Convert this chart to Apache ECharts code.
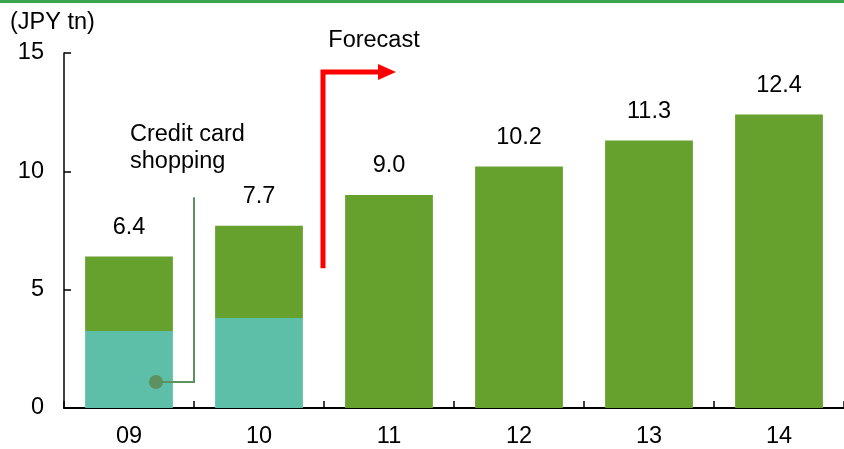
<!DOCTYPE html>
<html>
<head>
<meta charset="utf-8">
<script src="https://cdn.jsdelivr.net/npm/echarts@6/dist/echarts.min.js"></script>
<style>
  html, body { margin: 0; padding: 0; background: #fff; }
  #chart { width: 844px; height: 449px; }
</style>
</head>
<body>
<div id="chart"></div>
<script>
// Annual market size, JPY trillion; 11 onwards are forecasts
const years = ['09', '10', '11', '12', '13', '14'];
const totals = [6.4, 7.7, 9.0, 10.2, 11.3, 12.4];
// Credit card shopping portion (reported for actual years only)
const creditCard = [3.25, 3.8, null, null, null, null];
const yTicks = [0, 5, 10, 15];

const otherPart = totals.map((t, i) => creditCard[i] == null ? t : +(t - creditCard[i]).toFixed(2));

const FONT = 'Liberation Sans, Arial, sans-serif';
const FS = 23.5;
const chart = echarts.init(document.getElementById('chart'), null, { renderer: 'canvas' });

chart.setOption({
  animation: false,
  grid: { left: 64, right: -2, top: 53, bottom: 39, containLabel: false },
  xAxis: {
    type: 'category',
    data: years,
    axisLine: { lineStyle: { color: '#000', width: 2 } },
    axisTick: { show: true, inside: true, length: 7, lineStyle: { color: '#000', width: 1.5 } },
    axisLabel: { color: '#000', fontFamily: FONT, fontSize: FS, margin: 17 }
  },
  yAxis: {
    type: 'value',
    min: yTicks[0],
    max: yTicks[yTicks.length - 1],
    interval: yTicks[1] - yTicks[0],
    axisLine: { show: true, lineStyle: { color: '#000', width: 1.5 } },
    axisTick: { show: true, inside: true, length: 7, lineStyle: { color: '#000', width: 1.5 } },
    splitLine: { show: false },
    axisLabel: { color: '#000', fontFamily: FONT, fontSize: FS, margin: 20 }
  },
  series: [
    {
      name: 'Credit card shopping',
      type: 'bar',
      stack: 'total',
      barWidth: '67.5%',
      data: creditCard,
      itemStyle: { color: '#5DBFA8' }
    },
    {
      name: 'Other',
      type: 'bar',
      stack: 'total',
      barWidth: '67.5%',
      data: otherPart,
      itemStyle: { color: '#66A12D' },
      label: {
        show: true,
        position: 'top',
        distance: 17,
        color: '#000',
        fontFamily: FONT,
        fontSize: FS,
        formatter: p => totals[p.dataIndex].toFixed(1)
      }
    }
  ]
});

// Annotations placed through the axes' own scales
const px = (cat, val) => chart.convertToPixel({ gridIndex: 0 }, [cat, val]);
const c0 = px(0, 0), c1 = px(1, 0), c2 = px(2, 0);
const b01 = (c0[0] + c1[0]) / 2;   // boundary between 09 and 10
const b12 = (c1[0] + c2[0]) / 2;   // boundary between 10 and 11
const yv = v => px(0, v)[1];

const dot = [c0[0] + 27, yv(1.1)];
const leaderTop = yv(8.9);
const arrowBottom = yv(5.9);
const arrowTop = yv(14.2);
const arrowEnd = b12 + 56;

chart.setOption({
  graphic: [
    // top rule
    { type: 'rect', z: 100, shape: { x: 0, y: 0, width: 844, height: 3 }, style: { fill: '#3AA34E' }, silent: true },
    // unit
    { type: 'text', z: 100, x: 10, y: 23, style: { text: '(JPY tn)', fill: '#000', font: FS + 'px ' + FONT, textVerticalAlign: 'middle' } },
    // credit card leader
    { type: 'polyline', z: 100, shape: { points: [dot, [b01, dot[1]], [b01, leaderTop]] },
      style: { stroke: '#5E9160', lineWidth: 2, fill: null } },
    { type: 'circle', z: 101, shape: { cx: dot[0], cy: dot[1], r: 7 }, style: { fill: '#5E9160' } },
    { type: 'text', z: 100, x: 130, y: 121, style: { text: 'Credit card\nshopping', fill: '#000', font: FS + 'px ' + FONT, lineHeight: 27, textVerticalAlign: 'top' } },
    // forecast arrow
    { type: 'polyline', z: 100, shape: { points: [[b12 - 1, arrowBottom], [b12 - 1, arrowTop], [arrowEnd, arrowTop]] },
      style: { stroke: '#FF0000', lineWidth: 5, fill: null, lineJoin: 'miter' } },
    { type: 'polygon', z: 100, shape: { points: [[arrowEnd - 2, arrowTop - 8], [arrowEnd + 16, arrowTop], [arrowEnd - 2, arrowTop + 8]] },
      style: { fill: '#FF0000' } },
    { type: 'text', z: 100, x: b12 + 50, y: 41, style: { text: 'Forecast', fill: '#000', font: FS + 'px ' + FONT, textAlign: 'center', textVerticalAlign: 'middle' } }
  ]
});
</script>
</body>
</html>
